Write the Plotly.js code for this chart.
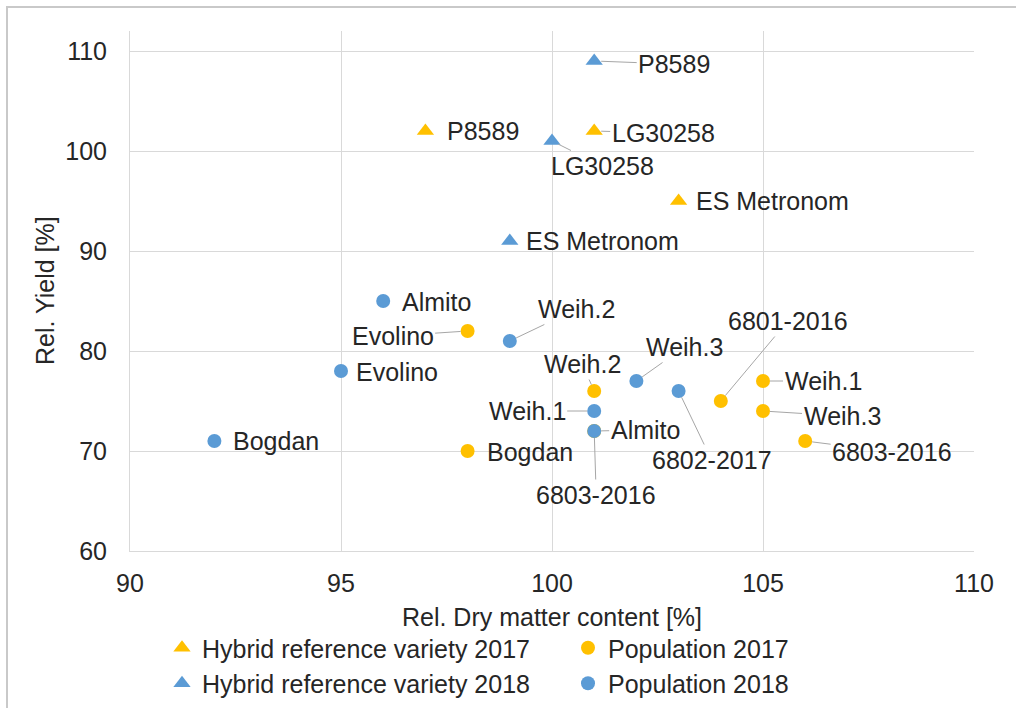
<!DOCTYPE html>
<html>
<head>
<meta charset="utf-8">
<script src="https://cdn.plot.ly/plotly-3.0.1.min.js"></script>
<style>
  html, body { margin: 0; padding: 0; background: #ffffff; }
  #wrap { position: relative; width: 1016px; height: 708px; overflow: hidden; }
  #chart { width: 1016px; height: 708px; }
  #frame { position: absolute; left: 6px; top: 6px; width: 1020px; height: 720px;
           border-left: 2px solid #c9c9c9; border-top: 2px solid #c9c9c9; pointer-events: none; }
</style>
</head>
<body>
<div id="wrap">
  <div id="chart"></div>
  <div id="frame"></div>
</div>
<script>
// ---- data ----
const hyb17Names = ['P8589', 'LG30258', 'ES Metronom'];
const hyb17X = [97, 101, 103];
const hyb17Y = [102, 102, 95];

const hyb18Names = ['P8589', 'LG30258', 'ES Metronom'];
const hyb18X = [101, 100, 99];
const hyb18Y = [109, 101, 91];

const pop17Names = ['Evolino', 'Weih.2', 'Bogdan', '6801-2016', 'Weih.1', 'Weih.3', '6803-2016', 'Almito'];
const pop17X = [98, 101, 98, 104, 105, 105, 106, 101];
const pop17Y = [82, 76, 70, 75, 77, 74, 71, 72];

const pop18Names = ['Almito', 'Weih.2', 'Evolino', 'Bogdan', 'Weih.3', '6802-2017', 'Weih.1', '6803-2016'];
const pop18X = [96, 99, 95, 92, 102, 103, 101, 101];
const pop18Y = [85, 81, 78, 71, 77, 76, 74, 72];

const seriesNames = ['Hybrid reference variety 2017', 'Hybrid reference variety 2018', 'Population 2017', 'Population 2018'];
const xTicks = [90, 95, 100, 105, 110];
const yTicks = [60, 70, 80, 90, 100, 110];
const xTitle = 'Rel. Dry matter content [%]';
const yTitle = 'Rel. Yield [%]';

// ---- label placement (presentation only): [dx px, dy px, leader line?] ----
const hyb17Lab = [[58, 0, false], [69, 2, true], [94, 0, false]];
const hyb18Lab = [[80, 3, true], [50, 25, true], [93, 0, false]];
const pop17Lab = [[-75, 5, true], [-12, -27, true], [62, 1, false], [67, -80, true],
                  [60, 0, true], [79, 5, true], [87, 11, true], [51, -1, true]];
const pop18Lab = [[53, 1, false], [67, -32, true], [56, 1, false], [62, 0, false],
                  [48, -34, true], [33, 69, true], [-67, 0, true], [2, 64, true]];

const ORANGE = '#FFC000';
const BLUE = '#5B9BD5';
const TXT = '#262626';
const GRID = '#d9d9d9';
const FONT = 'Liberation Sans, Arial, Helvetica, sans-serif';
const FS = 25;

function trace(name, xs, ys, color, symbol, legend) {
  return {
    type: 'scatter', mode: 'markers', name: name, x: xs, y: ys,
    legend: legend, hoverinfo: 'skip',
    marker: { color: color, symbol: symbol, size: symbol === 'circle' ? 14 : 15, line: { width: 0 } }
  };
}

const data = [
  trace(seriesNames[0], hyb17X, hyb17Y, ORANGE, 'triangle-up', 'legend'),
  trace(seriesNames[1], hyb18X, hyb18Y, BLUE, 'triangle-up', 'legend'),
  trace(seriesNames[2], pop17X, pop17Y, ORANGE, 'circle', 'legend2'),
  trace(seriesNames[3], pop18X, pop18Y, BLUE, 'circle', 'legend2')
];

const annotations = [];
function addLabels(names, xs, ys, lab) {
  names.forEach((n, i) => {
    const [dx, dy, leader] = lab[i];
    annotations.push({
      x: xs[i], y: ys[i], xref: 'x', yref: 'y', text: n,
      showarrow: true, ax: dx, ay: dy, axref: 'pixel', ayref: 'pixel',
      arrowhead: 0, arrowwidth: 1, standoff: 7,
      arrowcolor: leader ? '#a6a6a6' : 'rgba(0,0,0,0)',
      font: { family: FONT, size: FS, color: TXT }
    });
  });
}
addLabels(hyb17Names, hyb17X, hyb17Y, hyb17Lab);
addLabels(hyb18Names, hyb18X, hyb18Y, hyb18Lab);
addLabels(pop17Names, pop17X, pop17Y, pop17Lab);
addLabels(pop18Names, pop18X, pop18Y, pop18Lab);

// y-axis title, drawn as rotated text left of the tick labels
annotations.push({
  xref: 'paper', yref: 'paper', x: (45 - 130) / 844, y: 0.5,
  xanchor: 'center', yanchor: 'middle', showarrow: false, textangle: -90,
  text: yTitle, font: { family: FONT, size: FS, color: TXT }
});

const legendCommon = {
  xref: 'container', yref: 'container', xanchor: 'left', yanchor: 'top',
  orientation: 'v', bgcolor: 'rgba(0,0,0,0)', borderwidth: 0,
  font: { family: FONT, size: FS, color: TXT }, tracegroupgap: 0, itemsizing: 'trace'
};

const layout = {
  width: 1016, height: 708, autosize: false,
  margin: { l: 130, r: 42, t: 31, b: 157, pad: 0, autoexpand: false },
  paper_bgcolor: '#ffffff', plot_bgcolor: '#ffffff',
  font: { family: FONT, size: FS, color: TXT },
  showlegend: true,
  legend: Object.assign({}, legendCommon, { x: 162 / 1016, y: (708 - 625) / 708 }),
  legend2: Object.assign({}, legendCommon, { x: 568 / 1016, y: (708 - 625) / 708 }),
  xaxis: {
    range: [90, 110], tickvals: xTicks, ticktext: xTicks.map(String),
    showgrid: true, gridcolor: GRID, gridwidth: 1, zeroline: false,
    showline: true, linecolor: GRID, linewidth: 1, ticks: '',
    tickfont: { family: FONT, size: FS, color: TXT }, ticklabelstandoff: 10,
    title: { text: xTitle, font: { family: FONT, size: FS, color: TXT }, standoff: 12 },
    automargin: false, fixedrange: true
  },
  yaxis: {
    range: [60, 112], tickvals: yTicks, ticktext: yTicks.map(String),
    showgrid: true, gridcolor: GRID, gridwidth: 1, zeroline: false,
    showline: true, linecolor: GRID, linewidth: 1, ticks: '',
    tickfont: { family: FONT, size: FS, color: TXT }, ticklabelstandoff: 17,
    title: { text: '' },
    automargin: false, fixedrange: true
  },
  annotations: annotations
};

Plotly.newPlot('chart', data, layout, { displayModeBar: false, staticPlot: true });
</script>
</body>
</html>
